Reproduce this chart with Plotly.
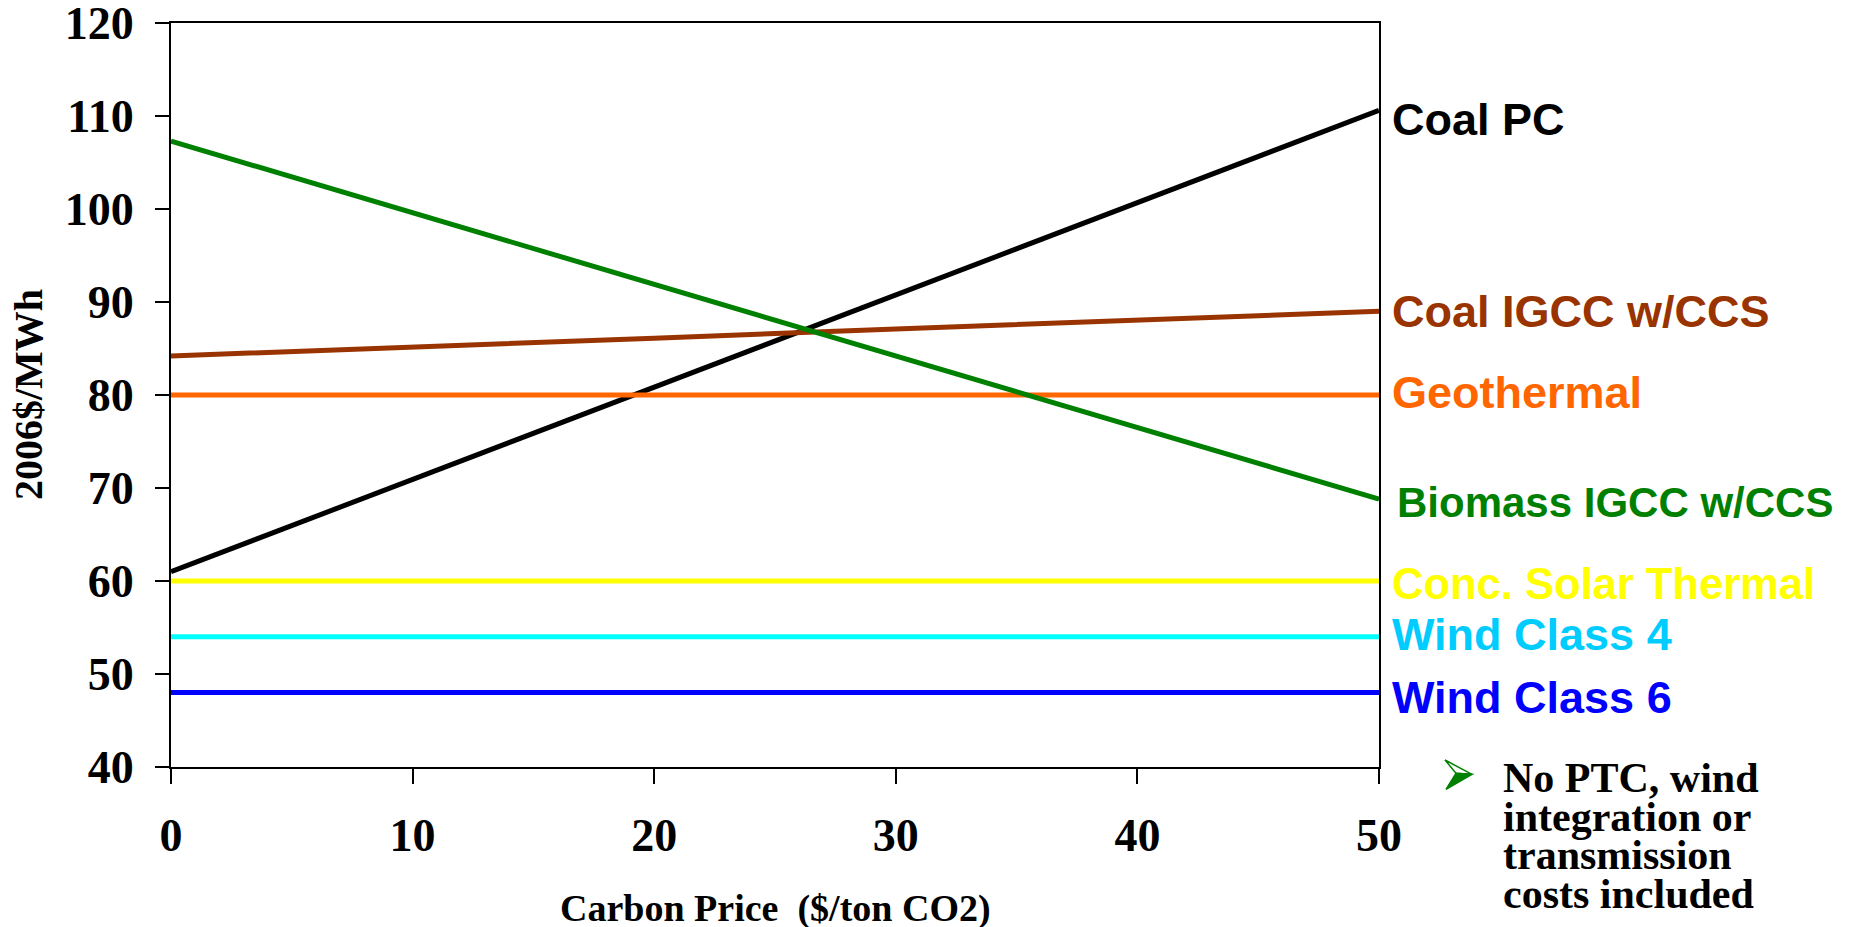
import plotly.graph_objects as go

# Carbon price levels ($/ton CO2)
carbon_price = [0, 10, 20, 30, 40, 50]

# Levelized cost of electricity (2006$/MWh) for each technology
coal_pc = [61.0, 70.9, 80.8, 90.7, 100.6, 110.6]
coal_igcc_ccs = [84.2, 85.1, 86.1, 87.1, 88.0, 89.0]
geothermal = [80, 80, 80, 80, 80, 80]
biomass_igcc_ccs = [107.3, 99.6, 91.9, 84.2, 76.5, 68.8]
conc_solar_thermal = [60, 60, 60, 60, 60, 60]
wind_class_4 = [54, 54, 54, 54, 54, 54]
wind_class_6 = [48, 48, 48, 48, 48, 48]

series_names = ["Coal PC", "Coal IGCC w/CCS", "Geothermal", "Biomass IGCC w/CCS",
                "Conc. Solar Thermal", "Wind Class 4", "Wind Class 6"]
series_values = [coal_pc, coal_igcc_ccs, geothermal, biomass_igcc_ccs,
                 conc_solar_thermal, wind_class_4, wind_class_6]

x_ticks = [0, 10, 20, 30, 40, 50]
y_ticks = [40, 50, 60, 70, 80, 90, 100, 110, 120]

note_lines = ["No PTC, wind", "integration or", "transmission", "costs included"]

# styling per series: line colour, label colour, label size, label offsets (px)
line_colors = ["#000000", "#993300", "#FF6600", "#008000", "#FFFF00", "#00FFFF", "#0000FF"]
label_colors = ["#000000", "#993300", "#FF6600", "#008000", "#FFFF00", "#00CCFF", "#0000FF"]
label_sizes = [45, 45, 45, 42, 43.5, 45, 45]
label_xshift = [11, 11, 11, 16, 11, 11, 11]
label_yshift = [-9, 0, 3, -3.5, -2.5, 2.5, -4.5]

SERIF = "Liberation Serif, Times New Roman, serif"
SANS = "Liberation Sans, Arial, sans-serif"
GREEN = "#008000"

fig = go.Figure()
for name, vals, col in zip(series_names, series_values, line_colors):
    fig.add_trace(go.Scatter(x=carbon_price, y=vals, mode="lines", name=name,
                             line=dict(color=col, width=5)))

annotations = []
for name, vals, col, sz, dx, dy in zip(series_names, series_values, label_colors,
                                       label_sizes, label_xshift, label_yshift):
    annotations.append(dict(x=carbon_price[-1], y=vals[-1], xref="x", yref="y",
                            text=name, showarrow=False, xanchor="left", yanchor="middle",
                            xshift=dx, yshift=dy,
                            font=dict(family=SANS, size=sz, color=col, weight="bold")))

# axis titles
annotations.append(dict(x=0.5, y=0, xref="paper", yref="paper", text="Carbon Price\u00a0 ($/ton CO2)",
                        showarrow=False, xanchor="center", yanchor="middle", yshift=-141,
                        font=dict(family=SERIF, size=38, color="black", weight="bold")))
annotations.append(dict(x=0, y=0.5, xref="paper", yref="paper", text="2006$/MWh",
                        showarrow=False, xanchor="center", yanchor="middle", xshift=-143,
                        textangle=-90,
                        font=dict(family=SERIF, size=40, color="black", weight="bold")))

# bullet note below the labels
for i, line in enumerate(note_lines):
    annotations.append(dict(x=1, y=0, xref="paper", yref="paper", text=line,
                            showarrow=False, xanchor="left", yanchor="middle",
                            xshift=122, yshift=-11 - 38.5 * i,
                            font=dict(family=SERIF, size=42, color="black", weight="bold")))

# 3-D arrowhead bullet: outlined upper half, filled lower half
bullet_shapes = [
    dict(type="path", xref="paper", yref="paper", xsizemode="pixel", ysizemode="pixel",
         xanchor=1, yanchor=0, path="M 66 7 L 93 -7.3 L 77 -6.3 Z",
         fillcolor="white", line=dict(color=GREEN, width=1.5)),
    dict(type="path", xref="paper", yref="paper", xsizemode="pixel", ysizemode="pixel",
         xanchor=1, yanchor=0, path="M 67 -22.3 L 93 -7.3 L 77 -6.3 Z",
         fillcolor=GREEN, line=dict(color=GREEN, width=1.5)),
]

fig.update_layout(
    width=1859, height=927,
    margin=dict(l=171, r=480, t=23, b=160, autoexpand=False),
    paper_bgcolor="white", plot_bgcolor="white",
    showlegend=False,
    annotations=annotations,
    shapes=bullet_shapes,
    xaxis=dict(range=[0, 50], tickvals=x_ticks, ticks="outside", ticklen=15, tickwidth=2,
               tickcolor="black", showline=True, linecolor="black", linewidth=2, mirror=True,
               showgrid=False, zeroline=False, ticklabelstandoff=12, ticklabeloverflow="allow",
               automargin=False,
               tickfont=dict(family=SERIF, size=46, color="black", weight="bold")),
    yaxis=dict(range=[40, 120], tickvals=y_ticks, ticks="outside", ticklen=14, tickwidth=2,
               tickcolor="black", showline=True, linecolor="black", linewidth=2, mirror=True,
               showgrid=False, zeroline=False, ticklabelstandoff=12, ticklabeloverflow="allow",
               automargin=False,
               tickfont=dict(family=SERIF, size=46, color="black", weight="bold")),
)

fig.write_html("out.html")
